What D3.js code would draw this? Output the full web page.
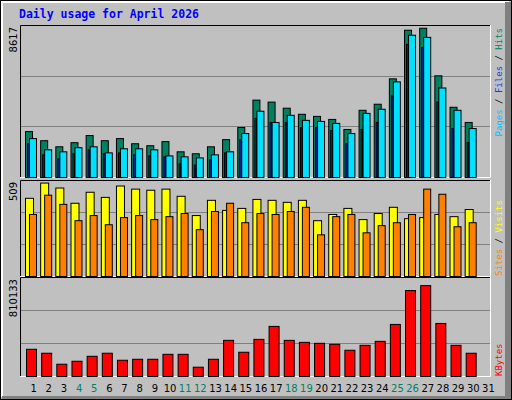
<!DOCTYPE html>
<html><head><meta charset="utf-8">
<script src="https://cdn.jsdelivr.net/npm/d3@7"></script>
<style>body{margin:0;background:#fff}</style>
</head><body><div id="chart"></div>
<script>
// dados do gráfico
const days = d3.range(1, 32);
const weekend = [4, 5, 11, 12, 18, 19, 25, 26];
const hits = [2650,2124,1773,2010,2422,2124,2246,1948,1834,2071,1483,1369,1773,2185,2887,4467,4352,4001,3650,3528,3352,2773,3879,4230,5695,8503,8617,5870,4054,3177];
const files = [2246,1597,1483,1720,1773,1422,1658,1658,1597,1246,1193,1132,1307,1483,2536,3826,3177,3589,3299,3238,3124,2536,3703,3940,5519,8214,8091,5168,3879,2826];
const pages = [1948,1307,1071,1369,1597,1369,1422,1307,1246,1193,781,720,1018,1422,2185,3414,3177,3177,2887,2887,2712,1948,2773,3177,4703,7687,7511,4352,2826,2010];
const visits = [426,509,482,399,459,431,493,476,470,476,437,332,415,360,371,420,415,404,415,304,338,371,310,343,377,315,321,338,326,365];
const sites = [338,443,393,304,332,282,321,332,310,326,343,255,354,399,293,343,338,354,377,227,326,338,238,277,293,338,476,448,271,293];
const kbytes = [242688,207388,109430,135905,180030,207388,144730,153555,153555,197680,197680,82955,153555,322113,216213,330938,446545,322113,304463,295638,286813,233863,277988,313288,464195,766010,810133,473020,277988,207388];

const W = 512, H = 400;
const svg = d3.select("#chart").append("svg").attr("width", W).attr("height", H);
const mono = "'DejaVu Sans Mono', monospace";

// fundo e moldura 3D
svg.append("rect").attr("width", W).attr("height", H).attr("fill", "#c0c0c0");
svg.append("rect").attr("x", 0.5).attr("y", 0.5).attr("width", W - 1).attr("height", H - 1).attr("fill", "none").attr("stroke", "#000");
svg.append("path").attr("d", `M2,${H-3}V2H${W-3}`).attr("stroke", "#fff").attr("fill", "none").attr("stroke-width", 2);
svg.append("rect").attr("x", W - 7).attr("y", 2).attr("width", 6).attr("height", H - 3).attr("fill", "#808080");
svg.append("rect").attr("x", 2).attr("y", H - 4).attr("width", W - 3).attr("height", 3).attr("fill", "#808080");

svg.append("text").attr("x", 19).attr("y", 18).text("Daily usage for April 2026")
    .attr("font-family", mono).attr("font-weight", "bold").attr("font-size", 11.5).attr("fill", "#0000ff");

const x0 = 20, x1 = 490;
const x = d3.scaleBand().domain(days).range([18, 488]).paddingInner(0);

// painéis
const panels = [
    {top: 25, bottom: 177, max: 8775, label: "8617"},
    {top: 180, bottom: 276, max: 523, label: "509"},
    {top: 277, bottom: 376, max: 882500, label: "810133"}
];
panels.forEach(p => {
    p.y = d3.scaleLinear().domain([0, p.max]).range([p.bottom, p.top]);
    svg.append("rect").attr("x", x0).attr("y", p.top).attr("width", x1 - x0).attr("height", p.bottom - p.top).attr("fill", "#c0c0c0");
    [1, 2].forEach(i => {
        const gy = Math.round(p.bottom - (p.bottom - p.top) * i / 3) + 0.5;
        svg.append("line").attr("x1", x0).attr("x2", x1).attr("y1", gy).attr("y2", gy).attr("stroke", "#808080");
    });
    svg.append("path").attr("d", `M${x0+0.5},${p.bottom}V${p.top+0.5}H${x1}`).attr("stroke", "#000").attr("fill", "none");
    svg.append("path").attr("d", `M${x0},${p.bottom+0.5}H${x1+0.5}V${p.top}`).attr("stroke", "#fff").attr("fill", "none");
    svg.append("text").attr("transform", `translate(17,${p.top + 2}) rotate(-90)`).attr("text-anchor", "end")
        .attr("font-family", "'DejaVu Sans', sans-serif").attr("font-size", 10).text(p.label);
});

function bars(data, p, dx, w, fill) {
    svg.append("g").selectAll("rect").data(data).join("rect")
        .attr("x", (d, i) => x(days[i]) + dx + 0.5)
        .attr("y", d => p.y(d) + 0.5)
        .attr("width", w)
        .attr("height", d => p.bottom - p.y(d))
        .attr("fill", fill).attr("stroke", "#000");
}
bars(hits, panels[0], 7, 7, "#008060");
bars(files, panels[0], 11, 7, "#00e0ff");
bars(pages, panels[0], 9, 1.5, "#0040ff");
bars(visits, panels[1], 7, 8, "#ffff00");
bars(sites, panels[1], 11, 7, "#ff8000");
bars(kbytes, panels[2], 8, 10, "#ff0000");

// rótulos da direita
function sideLabel(parts, y, anchor) {
    const t = svg.append("text").attr("transform", `translate(502,${y}) rotate(-90)`).attr("text-anchor", anchor)
        .attr("font-family", mono).attr("font-size", 9);
    parts.forEach(([s, c]) => t.append("tspan").text(s).attr("fill", c));
}
sideLabel([["Pages", "#00c0ff"], [" / ", "#000"], ["Files", "#0040ff"], [" / ", "#000"], ["Hits", "#008060"]], 28, "end");
sideLabel([["Sites", "#ff8000"], [" / ", "#000"], ["Visits", "#ffff00"]], 276, "start");
sideLabel([["KBytes", "#ff0000"]], 376, "start");

// eixo x
svg.append("g").selectAll("text").data(days).join("text")
    .attr("x", d => x(d) + x.bandwidth() / 2 + 8).attr("y", 392).attr("text-anchor", "middle")
    .attr("font-family", "'DejaVu Sans', sans-serif").attr("font-size", 10)
    .attr("fill", d => weekend.includes(d) ? "#008060" : "#000").text(d => d);
</script></body></html>
